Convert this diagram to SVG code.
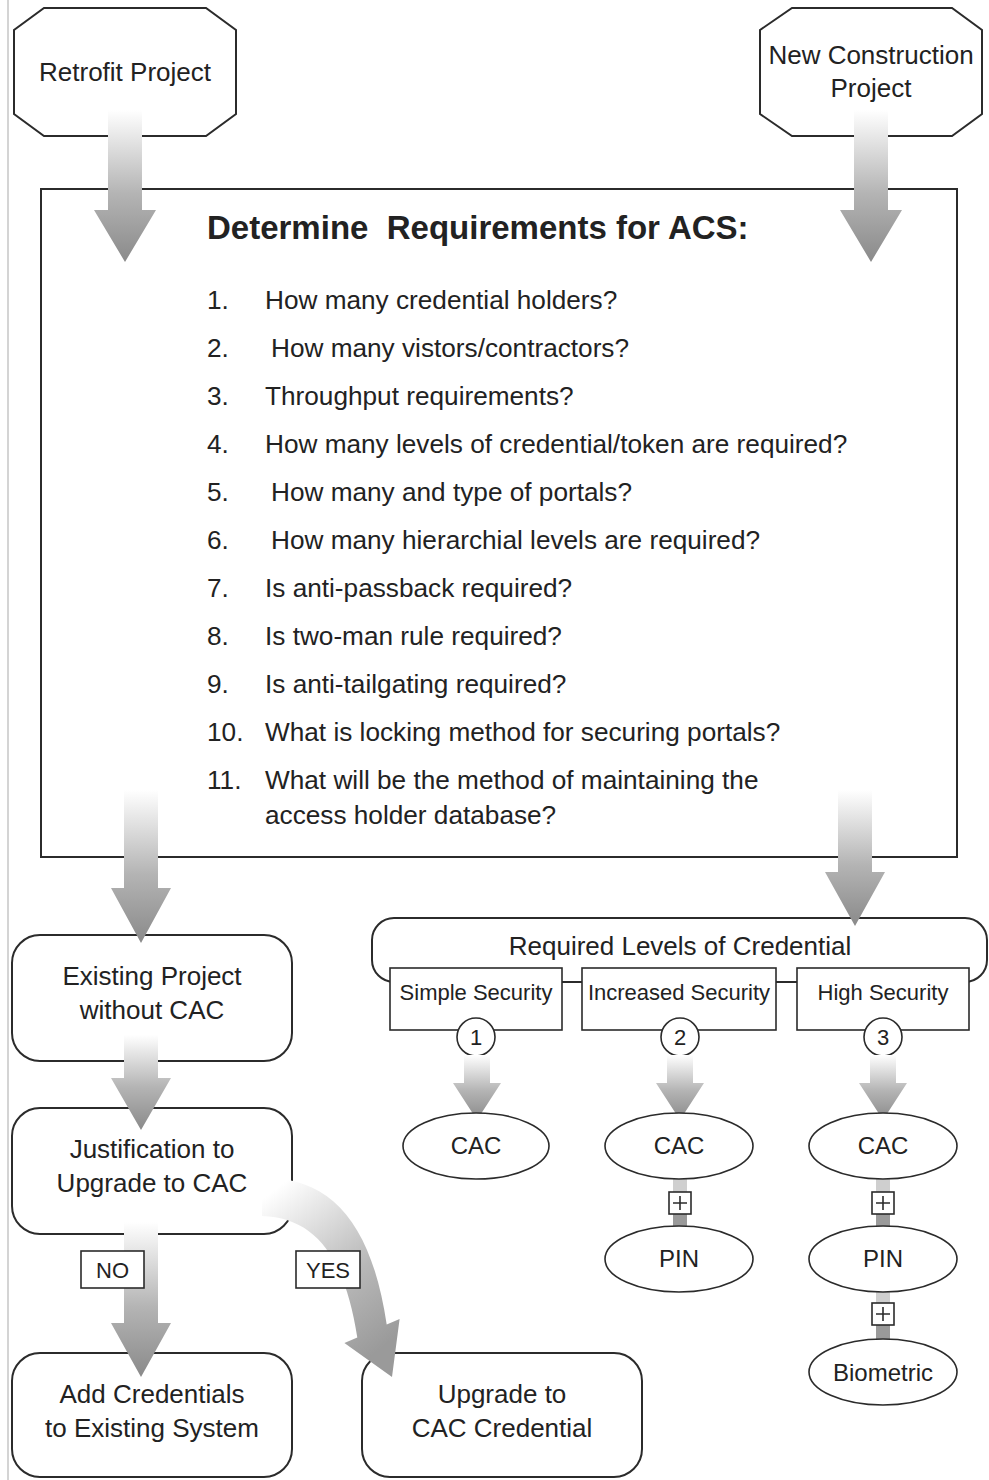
<svg xmlns="http://www.w3.org/2000/svg" width="989" height="1480" viewBox="0 0 989 1480">
  <style>
    .box { fill: #fff; stroke: #2b2b2b; stroke-width: 2; }
    .thin { fill: #fff; stroke: #2b2b2b; stroke-width: 1.6; }
    text { font-family: "Liberation Sans", Arial, sans-serif; fill: #222; }
    .lbl { font-size: 26px; text-anchor: middle; }
    .item { font-size: 26.2px; }
    .sub { font-size: 22px; text-anchor: middle; }
    .oval { font-size: 24px; text-anchor: middle; }
    .num { font-size: 22px; text-anchor: middle; }
    .tag { font-size: 22px; text-anchor: middle; }
    .arrow { fill: url(#fadeDown); }
    .barLight { fill: #cfcfcf; }
    .barDark { fill: #9a9a9a; }
  </style>
  <defs>
    <linearGradient id="fadeDown" x1="0" y1="0" x2="0" y2="1">
      <stop offset="0" stop-color="#ffffff"/>
      <stop offset="0.55" stop-color="#b4b4b4"/>
      <stop offset="1" stop-color="#8a8a8a"/>
    </linearGradient>
    <linearGradient id="fadeCurve" gradientUnits="userSpaceOnUse" x1="268" y1="1195" x2="385" y2="1345">
      <stop offset="0" stop-color="#ffffff"/>
      <stop offset="0.6" stop-color="#b8b8b8"/>
      <stop offset="1" stop-color="#9a9a9a"/>
    </linearGradient>
  </defs>

  <rect width="989" height="1480" fill="#fff"/>
  <line x1="8" y1="0" x2="8" y2="1480" stroke="#d4d4d4" stroke-width="2"/>

  <!-- start nodes -->
  <g id="retrofit">
    <polygon class="box" points="44,8 206,8 236,30 236,114 206,136 44,136 14,114 14,30"/>
    <text class="lbl" x="125" y="81">Retrofit Project</text>
  </g>
  <g id="newConstruction">
    <polygon class="box" points="792,8 952,8 982,30 982,114 952,136 792,136 760,114 760,30"/>
    <text class="lbl" x="871" y="64">New Construction</text>
    <text class="lbl" x="871" y="97">Project</text>
  </g>

  <!-- requirements checklist -->
  <g id="requirements">
    <rect class="box" x="41" y="189" width="916" height="668"/>
    <text x="207" y="239" font-size="33" font-weight="bold" xml:space="preserve">Determine  Requirements for ACS:</text>
    <g class="item">
      <text x="207" y="309">1.</text><text x="265" y="309">How many credential holders?</text>
      <text x="207" y="357">2.</text><text x="271" y="357">How many vistors/contractors?</text>
      <text x="207" y="405">3.</text><text x="265" y="405">Throughput requirements?</text>
      <text x="207" y="453">4.</text><text x="265" y="453">How many levels of credential/token are required?</text>
      <text x="207" y="501">5.</text><text x="271" y="501">How many and type of portals?</text>
      <text x="207" y="549">6.</text><text x="271" y="549">How many hierarchial levels are required?</text>
      <text x="207" y="597">7.</text><text x="265" y="597">Is anti-passback required?</text>
      <text x="207" y="645">8.</text><text x="265" y="645">Is two-man rule required?</text>
      <text x="207" y="693">9.</text><text x="265" y="693">Is anti-tailgating required?</text>
      <text x="207" y="741">10.</text><text x="265" y="741">What is locking method for securing portals?</text>
      <text x="207" y="789">11.</text><text x="265" y="789">What will be the method of maintaining the</text>
      <text x="265" y="824">access holder database?</text>
    </g>
  </g>

  <!-- retrofit branch -->
  <g id="existingProject">
    <rect class="box" x="12" y="935" width="280" height="126" rx="28"/>
    <text class="lbl" x="152" y="985">Existing Project</text>
    <text class="lbl" x="152" y="1019">without CAC</text>
  </g>
  <g id="justification">
    <rect class="box" x="12" y="1108" width="280" height="126" rx="28"/>
    <text class="lbl" x="152" y="1158">Justification to</text>
    <text class="lbl" x="152" y="1192">Upgrade to CAC</text>
  </g>
  <g id="addCredentials">
    <rect class="box" x="12" y="1353" width="280" height="124" rx="28"/>
    <text class="lbl" x="152" y="1403">Add Credentials</text>
    <text class="lbl" x="152" y="1437">to Existing System</text>
  </g>
  <g id="upgradeCAC">
    <rect class="box" x="362" y="1353" width="280" height="124" rx="28"/>
    <text class="lbl" x="502" y="1403">Upgrade to</text>
    <text class="lbl" x="502" y="1437">CAC Credential</text>
  </g>

  <!-- credential levels -->
  <g id="credentialLevels">
    <rect class="box" x="372" y="918" width="615" height="64" rx="22"/>
    <text class="lbl" x="680" y="955" font-size="25.5">Required Levels of Credential</text>
  </g>
  <g id="simpleSecurity">
    <rect class="thin" x="390" y="968" width="172" height="62"/>
    <text class="sub" x="476" y="1000">Simple Security</text>
  </g>
  <g id="increasedSecurity">
    <rect class="thin" x="582" y="968" width="194" height="62"/>
    <text class="sub" x="679" y="1000">Increased Security</text>
  </g>
  <g id="highSecurity">
    <rect class="thin" x="797" y="968" width="172" height="62"/>
    <text class="sub" x="883" y="1000">High Security</text>
  </g>
  <g id="level1">
    <circle class="thin" cx="476" cy="1037" r="19"/>
    <text class="num" x="476" y="1045">1</text>
  </g>
  <g id="level2">
    <circle class="thin" cx="680" cy="1037" r="19"/>
    <text class="num" x="680" y="1045">2</text>
  </g>
  <g id="level3">
    <circle class="thin" cx="883" cy="1037" r="19"/>
    <text class="num" x="883" y="1045">3</text>
  </g>

  <!-- connectors -->
  <g id="connectors">
    <path class="arrow" d="M108,110 H142 V210 H156 L125,262 L94,210 H108 Z"/>
    <path class="arrow" d="M854,110 H888 V210 H902 L871,262 L840,210 H854 Z"/>
    <path class="arrow" d="M124,790 H158 V888 H171 L141,943 L111,888 H124 Z"/>
    <path class="arrow" d="M838,790 H872 V872 H885 L855,926 L825,872 H838 Z"/>
    <path class="arrow" d="M124,1035 H158 V1078 H171 L141,1130 L111,1078 H124 Z"/>
    <path class="arrow" d="M124,1222 H158 V1323 H171 L141,1377 L111,1323 H124 Z"/>
    <path fill="url(#fadeCurve)" d="M262,1178 C332,1176 372,1225 386.7,1324.6 L399.6,1319 L392,1377 L344.4,1343 L357.3,1337.4 C345,1260 318,1218 262,1216 Z"/>
    <path class="arrow" d="M464,1055 H490 V1083 H501 L477,1120 L453,1083 H464 Z"/>
    <path class="arrow" d="M667,1055 H693 V1083 H704 L680,1120 L656,1083 H667 Z"/>
    <path class="arrow" d="M870,1055 H896 V1083 H907 L883,1120 L859,1083 H870 Z"/>
    <!-- NO / YES tags -->
    <g id="tagNo">
      <rect class="thin" x="81" y="1251" width="63" height="37"/>
      <text class="tag" x="112.5" y="1278">NO</text>
    </g>
    <g id="tagYes">
      <rect class="thin" x="296" y="1251" width="64" height="37"/>
      <text class="tag" x="328" y="1278">YES</text>
    </g>
  </g>

  <!-- credential factors -->
  <g id="factorLinks">
    <rect class="barLight" x="673" y="1177" width="14" height="16"/>
    <rect class="barDark" x="673" y="1214" width="14" height="13"/>
    <rect class="barLight" x="876" y="1177" width="14" height="16"/>
    <rect class="barDark" x="876" y="1214" width="14" height="13"/>
    <rect class="barLight" x="876" y="1290" width="14" height="14"/>
    <rect class="barDark" x="876" y="1325" width="14" height="15"/>
    <g class="thin">
      <rect x="669" y="1192" width="22" height="22"/>
      <rect x="872" y="1192" width="22" height="22"/>
      <rect x="872" y="1303" width="22" height="22"/>
    </g>
    <g stroke="#2b2b2b" stroke-width="1.6">
      <path d="M680,1196 V1210 M673,1203 H687"/>
      <path d="M883,1196 V1210 M876,1203 H890"/>
      <path d="M883,1307 V1321 M876,1314 H890"/>
    </g>
  </g>
  <g id="cac1">
    <ellipse class="thin" cx="476" cy="1146" rx="73" ry="33"/>
    <text class="oval" x="476" y="1154">CAC</text>
  </g>
  <g id="cac2">
    <ellipse class="thin" cx="679" cy="1146" rx="74" ry="33"/>
    <text class="oval" x="679" y="1154">CAC</text>
  </g>
  <g id="pin2">
    <ellipse class="thin" cx="679" cy="1259" rx="74" ry="33"/>
    <text class="oval" x="679" y="1267">PIN</text>
  </g>
  <g id="cac3">
    <ellipse class="thin" cx="883" cy="1146" rx="74" ry="33"/>
    <text class="oval" x="883" y="1154">CAC</text>
  </g>
  <g id="pin3">
    <ellipse class="thin" cx="883" cy="1259" rx="74" ry="33"/>
    <text class="oval" x="883" y="1267">PIN</text>
  </g>
  <g id="biometric">
    <ellipse class="thin" cx="883" cy="1372" rx="74" ry="33"/>
    <text class="oval" x="883" y="1381" font-size="26">Biometric</text>
  </g>
</svg>
